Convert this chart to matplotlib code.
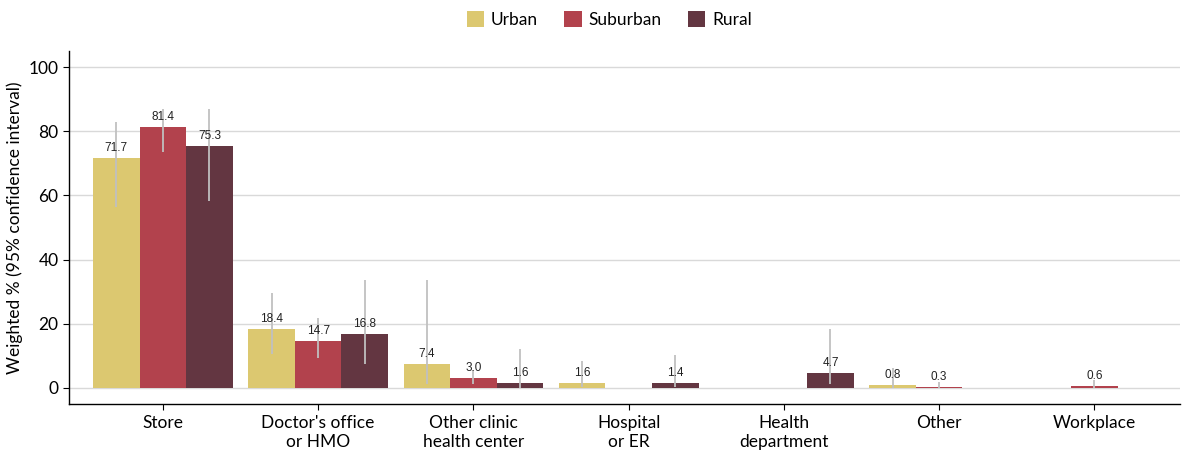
import numpy as np
import matplotlib
matplotlib.use("Agg")
import matplotlib.pyplot as plt

# 数据
categories = ["Store", "Doctor's office\nor HMO", "Other clinic\nhealth center",
              "Hospital\nor ER", "Health\ndepartment", "Other", "Workplace"]
series_names = ["Urban", "Suburban", "Rural"]

urban = [71.7, 18.4, 7.4, 1.6, np.nan, 0.8, np.nan]
suburban = [81.4, 14.7, 3.0, np.nan, np.nan, 0.3, 0.6]
rural = [75.3, 16.8, 1.6, 1.4, 4.7, np.nan, np.nan]

urban_lo = [56.3, 10.6, 1.1, 0.2, np.nan, 0.1, np.nan]
urban_hi = [83.0, 29.7, 33.5, 8.4, np.nan, 6.2, np.nan]
suburban_lo = [73.6, 9.4, 1.3, np.nan, np.nan, 0.0, 0.1]
suburban_hi = [86.9, 21.8, 5.6, np.nan, np.nan, 2.0, 2.5]
rural_lo = [58.4, 7.4, 0.1, 0.2, 1.1, np.nan, np.nan]
rural_hi = [86.8, 33.7, 12.0, 10.2, 18.5, np.nan, np.nan]

colors = ["#DCC870", "#B2424D", "#633641"]

plt.rcParams['font.family'] = ['Lato', 'DejaVu Sans']

fig = plt.figure(figsize=(11.83, 4.55), dpi=100)
ax = fig.add_axes([0.0583, 0.112, 0.939, 0.776])

x = np.arange(len(categories))
width = 0.3
all_vals = [urban, suburban, rural]
all_lo = [urban_lo, suburban_lo, rural_lo]
all_hi = [urban_hi, suburban_hi, rural_hi]

for i, (vals, lo, hi) in enumerate(zip(all_vals, all_lo, all_hi)):
    vals = np.array(vals, dtype=float)
    lo = np.array(lo, dtype=float)
    hi = np.array(hi, dtype=float)
    pos = x + (i - 1) * width
    ax.bar(pos, np.nan_to_num(vals), width=width, color=colors[i],
           label=series_names[i], zorder=2)
    # 置信区间
    mask = ~np.isnan(vals)
    ax.vlines(pos[mask], lo[mask], hi[mask], color="#C0C0C0", linewidth=1.3, zorder=3)
    # 数值标签
    for p, v in zip(pos[mask], vals[mask]):
        ax.annotate(f"{v:.1f}", (p, v), xytext=(0, 3), textcoords="offset points",
                    ha="center", va="bottom", fontsize=8.5, color="#222222",
                    family=['Liberation Sans', 'DejaVu Sans'], zorder=4)

ax.set_xlim(-0.605, 6.55)
ax.set_ylim(-5, 105)
ax.set_yticks([0, 20, 40, 60, 80, 100])
ax.set_xticks(x)
ax.set_xticklabels(categories, fontsize=12.5, linespacing=1.25)
ax.tick_params(axis='y', labelsize=12.5, length=4, width=0.8)
ax.tick_params(axis='x', length=4, width=0.8, pad=4)
ax.yaxis.grid(True, color="#D9D9D9", linewidth=1, zorder=0)
ax.set_axisbelow(True)
ax.set_ylabel("Weighted % (95% confidence interval)", fontsize=12.5)

for side in ["top", "right"]:
    ax.spines[side].set_visible(False)
for side in ["left", "bottom"]:
    ax.spines[side].set_linewidth(1.0)

fig.legend(loc="upper center", bbox_to_anchor=(0.515, 1.01), ncol=3, frameon=False,
           fontsize=12.5, handlelength=1.0, handleheight=1.0, handletextpad=0.4,
           columnspacing=1.5)

plt.savefig("out.png", dpi=100)
